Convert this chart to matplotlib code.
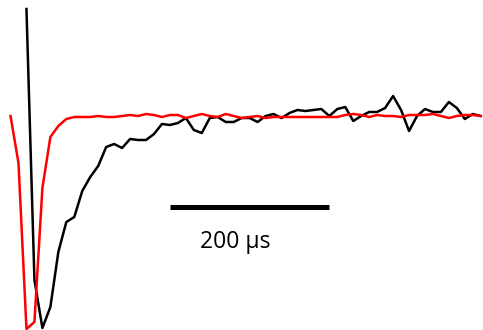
import numpy as np
import matplotlib
matplotlib.use("Agg")
import matplotlib.pyplot as plt


# =========================
# 1. 数据
# =========================

dt_us = 10  # 采样间隔, μs

# 黑色: 从 t = 0 开始
black_amp = [108, -163, -211, -190, -135, -105, -100, -74, -60, -49,
             -30, -27, -31, -22, -23, -23, -17, -7, -8, -6,
             -1, -13, -16, -1, 0, -5, -5, -1, -1, -5,
             1, 3, -1, 4, 7, 6, 7, 8, 1, 8,
             10, -4, 1, 5, 5, 9, 21, 7, -14, 1,
             8, 5, 5, 15, 9, -2, 3, 1]

# 红色: 比黑色早两个采样点
red_amp = [1, -46, -212, -205, -71, -20, -9, -2, 0, 0,
           0, 1, 0, 0, 1, 2, 1, 3, 2, 0,
           2, 2, -1, 1, 3, 1, 0, 3, 1, -1,
           0, 1, -1, 0, 0, 0, 0, 0, 0, 0,
           0, 0, 2, 3, 2, 0, 2, 1, 1, 0,
           2, 2, 2, 3, 1, -1, 1, 2, 2, 1]

scale_len_us = 200
scale_label = "200 μs"

t_black = np.arange(len(black_amp)) * dt_us
t_red = (np.arange(len(red_amp)) - 2) * dt_us


# =========================
# 2. 画图
# =========================

fig = plt.figure(figsize=(4.83, 3.3), dpi=100)
ax = fig.add_axes([0, 0, 1, 1])

ax.plot(t_black, black_amp, color="black", lw=1.8)
ax.plot(t_red, red_amp, color="#ff0000", lw=1.8)

# 比例尺
bar_x0 = 180
ax.plot([bar_x0, bar_x0 + scale_len_us], [-90, -90], color="black", lw=3.6,
        solid_capstyle="butt")
ax.text(262, -125, scale_label, ha="center", va="center", fontsize=16.5,
        family=["Open Sans", "DejaVu Sans"])

ax.set_xlim(-33.2, 572.8)
ax.set_ylim(-213, 117)
ax.axis("off")

fig.savefig("out.png", dpi=100)
